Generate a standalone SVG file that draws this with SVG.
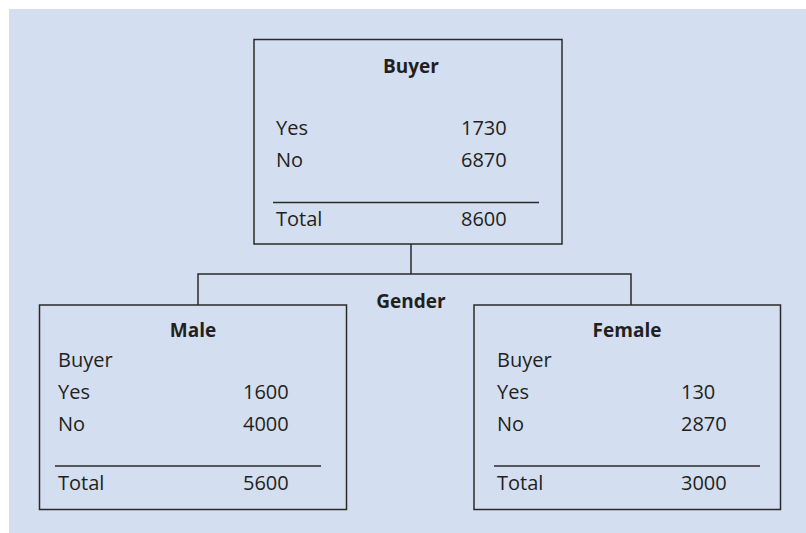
<svg xmlns="http://www.w3.org/2000/svg" width="806" height="533" viewBox="0 0 806 533">
<style>
.box{fill:none;stroke:#2a2a2a;stroke-width:1.5}
.rule{stroke:#2a2a2a;stroke-width:1.3}
.conn{fill:none;stroke:#2a2a2a;stroke-width:1.5}
text{font-family:"Open Sans","Noto Sans","Liberation Sans",sans-serif;font-size:20px;fill:#231f20}
.b{font-weight:bold;text-anchor:middle;font-size:19px}
</style>
<rect x="9" y="9" width="797" height="524" fill="#d3def0"/>
<g id="connectors">
<path class="conn" d="M411,244 V274 M198,305 V274 H631 V305"/>
</g>
<g id="root">
<rect class="box" x="254" y="39.5" width="308" height="204.5"/>
<text class="b" x="411" y="73">Buyer</text>
<text x="276" y="135">Yes</text><text x="461" y="135">1730</text>
<text x="276" y="167">No</text><text x="461" y="167">6870</text>
<line class="rule" x1="273" y1="202.5" x2="539" y2="202.5"/>
<text x="276" y="226">Total</text><text x="461" y="226">8600</text>
</g>
<text id="gender" class="b" x="411" y="308">Gender</text>
<g id="male">
<rect class="box" x="39.5" y="305" width="307" height="204.5"/>
<text class="b" x="193" y="337">Male</text>
<text x="58" y="367">Buyer</text>
<text x="58" y="399">Yes</text><text x="243" y="399">1600</text>
<text x="58" y="431">No</text><text x="243" y="431">4000</text>
<line class="rule" x1="55" y1="466" x2="321" y2="466"/>
<text x="58" y="490">Total</text><text x="243" y="490">5600</text>
</g>
<g id="female">
<rect class="box" x="474" y="305" width="306.5" height="204.5"/>
<text class="b" x="627" y="337">Female</text>
<text x="497" y="367">Buyer</text>
<text x="497" y="399">Yes</text><text x="681" y="399">130</text>
<text x="497" y="431">No</text><text x="681" y="431">2870</text>
<line class="rule" x1="494" y1="466" x2="760" y2="466"/>
<text x="497" y="490">Total</text><text x="681" y="490">3000</text>
</g>
</svg>
